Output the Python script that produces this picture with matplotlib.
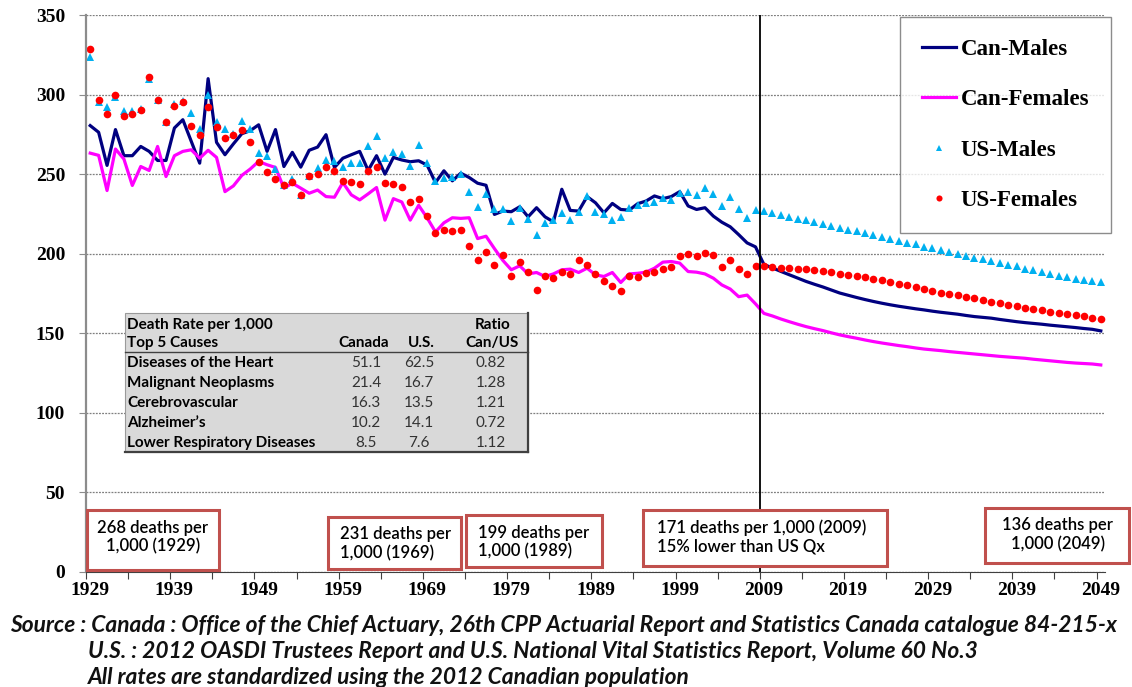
import matplotlib.pyplot as plt
from matplotlib.patches import Rectangle
from matplotlib.lines import Line2D
import numpy as np

years = np.arange(1929, 2050)

can_males = [280.5, 276.3, 255.5, 278, 261.6, 261.6, 267.4, 264.3, 258.6, 258.6,
             279, 284.2, 270.6, 256.9, 310, 270, 262.2, 269, 275.4, 277.3,
             281, 264.3, 278, 254.8, 263.7, 254.4, 265, 267, 274.8, 254.2,
             260, 262.2, 264.3, 252.3, 261.6,
             250, 260.5, 258.9, 257.8, 258.4, 255.7, 244.7, 252.1, 245.8, 250.6,
             247.9, 244.3, 243, 224.7, 226.8, 226.4, 229.5, 223.2, 228.9, 223.2,
             220, 240.5, 227.2, 226.8, 235.9, 232, 225.7, 231.6, 227.8, 227.4,
             231.4, 233.1, 236.3, 234.6, 235.9, 239, 230, 227.8, 228.9, 223.6,
             219.8, 216.9, 212, 206.8, 204.3,
             193.2, 191.1, 188.9, 186.8, 184.7, 182.6, 180.8, 179.1, 177.2, 175.3,
             173.9, 172.5, 171.2, 170.0, 168.9, 167.9, 167.0, 166.2, 165.4, 164.7,
             163.9, 163.2, 162.6, 162.0, 161.2, 160.5, 160.0, 159.5, 158.7, 158.0,
             157.3, 156.7, 156.2, 155.7, 155.1, 154.6, 154.1, 153.6, 153.0, 152.5,
             151.5]

can_females = [263.2, 261.8, 239.7, 265.8, 259.5, 242.9, 254.8, 252.3, 267.4, 248.5,
               261.6, 264.3, 265.3, 260, 265, 260.5, 239, 242.6, 249.2, 253.2,
               258, 255.9, 254.2, 241.2, 244.3, 241.2, 238, 240, 235.9, 235.5,
               244.7, 237, 233.8, 237.6, 241.6,
               221.1, 234.6, 232.5, 221.1, 230.4, 222.6, 213.7, 219.4, 222.6, 222.2,
               222.6, 209.5, 211, 203.2, 195.8, 189.9, 192.4, 187.3, 188.2, 185.7,
               187.3, 189.9, 190.3, 188.2, 190.9, 186.7, 185.7, 188.2, 181.9, 187.3,
               187.7, 188.4, 190.9, 194.7, 195.1, 194.1, 188.8, 188.4, 187.3, 184.6,
               180.4, 177.8, 173, 174, 168.5,
               162.5, 160.9, 159.0, 157.3, 155.7, 154.2, 152.9, 151.7, 150.3, 149.0,
               147.9, 146.9, 145.8, 144.8, 143.9, 143.1, 142.3, 141.6, 140.8, 140.1,
               139.6, 139.1, 138.5, 138.0, 137.5, 137.0, 136.5, 136.0, 135.5, 135.1,
               134.7, 134.3, 133.7, 133.2, 132.7, 132.2, 131.7, 131.3, 131.0, 130.7,
               130.1]

us_males = [323.7, 295.2, 292.2, 298.5, 289.5, 289.5, 291, 309.5, 296.8, 282.6,
            294.1, 295.8, 288.4, 278.6, 300, 282.6, 278.6, 275.2, 283.6, 278.4,
            263.2, 261.6, 253.4, 243.3, 247, 237, 248.9, 253.8, 259, 258,
            254.2, 257, 257, 267.4, 273.7,
            259.9, 264.1, 262.7, 255.3, 268.4, 257, 245.8, 247.5, 247.9, 250,
            238.8, 229.5, 237.3, 228.3, 228.3, 220.5, 228.5, 221.5, 212, 219.4,
            220.9, 225.7, 221.1, 226.4, 236.3, 226.4, 224.7, 221.1, 223, 228.9,
            230.4, 232.1, 232.7, 234.8, 233.8, 238, 239, 236.9, 241.6, 237.8,
            230, 235.7, 227.8, 222.2, 227.2,
            226.8, 225.4, 224.3, 223.1, 222, 220.9, 219.8, 218.8, 217.7, 216.3,
            215.2, 214.2, 213.2, 211.7, 210.6, 209.4, 208.3, 206.8, 205.8, 204.5,
            203.5, 202.2, 201.1, 199.8, 198.8, 197.5, 196.4, 195.4, 194.3, 193.1,
            192, 190.7, 189.5, 188.4, 187.2, 186.1, 185.1, 184, 183.3, 182.6,
            182]

us_females = [328.8, 296.8, 288, 300, 286.8, 288, 290.1, 311, 296.8, 282.6,
              292.6, 295.2, 280.5, 274.4, 292.2, 279.6, 272.7, 274.4, 277.9, 270,
              257.6, 251.3, 247, 242.9, 245, 236.6, 248.9, 250, 254.2, 252.1,
              245.8, 245, 244, 251.7, 254.4,
              244.3, 243.7, 242, 232.5, 234.6, 223.6, 213.1, 215.2, 214.1, 214.6,
              205.1, 195.8, 200.8, 192.6, 198.9, 185.7, 194.5, 188.4, 177.2, 185.7,
              185, 188.8, 187.1, 196.2, 193, 187.1, 183.1, 180, 176.8, 186.1,
              185.2, 187.8, 188.2, 190.3, 191.6, 198.3, 199.8, 198.7, 200.4, 199.4,
              191.6, 195.8, 190.5, 187.3, 192.4,
              192.1, 191.7, 191.3, 190.9, 190.6, 190.1, 189.6, 188.9, 188.3, 187.5,
              186.8, 185.8, 185.2, 184.1, 183.3, 182.2, 181.2, 180.3, 179.2, 177.8,
              176.6, 175.6, 174.7, 173.8, 172.9, 171.9, 170.8, 169.8, 168.9, 168.0,
              167.1, 166.2, 165.3, 164.5, 163.6, 162.8, 162.1, 161.4, 160.6, 159.7,
              158.8]

causes = ['Diseases of the Heart', 'Malignant Neoplasms', 'Cerebrovascular',
          'Alzheimer\u2019s', 'Lower Respiratory Diseases']
rate_canada = ['51.1', '21.4', '16.3', '10.2', '8.5']
rate_us = ['62.5', '16.7', '13.5', '14.1', '7.6']
ratio = ['0.82', '1.28', '1.21', '0.72', '1.12']

box_texts = ['268 deaths per\n1,000 (1929)',
             '231 deaths per\n1,000 (1969)',
             '199 deaths per\n1,000 (1989)',
             '171 deaths per 1,000 (2009)\n15% lower than US Qx',
             '136 deaths per\n1,000 (2049)']

source_lines = ['Source : Canada : Office of the Chief Actuary, 26th CPP Actuarial Report and Statistics Canada catalogue 84-215-x',
                'U.S. : 2012 OASDI Trustees Report and U.S. National Vital Statistics Report, Volume 60 No.3',
                'All rates are standardized using the 2012 Canadian population']

W, H = 1132, 687
serif = 'Liberation Serif'
sans = 'Lato'

def fx(p):
    return p / W

def fy(p):
    return 1 - p / H

fig = plt.figure(figsize=(W / 100, H / 100), dpi=100)
ax = fig.add_axes([fx(86), fy(572), (1105 - 86) / W, (572 - 15) / H])

ax.plot(years, can_males, color='#000080', lw=2.3, label='Can-Males')
ax.plot(years, can_females, color='#ff00ff', lw=2.3, label='Can-Females')
ax.plot(years, us_males, ls='none', marker='^', ms=5.5, mew=0, color='#00b0f0', label='US-Males')
ax.plot(years, us_females, ls='none', marker='o', ms=5.5, mew=0, color='#ff0000', label='US-Females')

ax.axvline(2008.5, color='black', lw=1.3)

ax.set_xlim(1928.5, 2049.5)
ax.set_ylim(0, 350)
ax.set_yticks(range(0, 351, 50))
ax.yaxis.grid(True, ls=(0, (1.5, 1)), color='#7f7f7f', lw=0.9)
ax.set_axisbelow(True)

ax.set_xticks(np.arange(1928.5, 2050, 5))
ax.set_xticklabels([])
ax.set_xticks(np.arange(1929, 2050, 10), minor=True)
ax.set_xticklabels([str(y) for y in range(1929, 2050, 10)], minor=True,
                   fontfamily=serif, fontweight='bold', fontsize=14)
ax.tick_params(axis='x', which='major', length=5, color='#404040')
ax.tick_params(axis='x', which='minor', length=0, pad=7)
ax.tick_params(axis='y', length=5, color='#8c8c8c', pad=10)
for lab in ax.get_yticklabels():
    lab.set_fontfamily(serif)
    lab.set_fontweight('bold')
    lab.set_fontsize(14)

for s in ['top', 'right']:
    ax.spines[s].set_visible(False)
ax.spines['left'].set_color('#8c8c8c')
ax.spines['left'].set_linewidth(1.6)
ax.spines['bottom'].set_color('#404040')

leg = ax.legend(loc='upper right', bbox_to_anchor=(fx(1111), fy(17)),
                bbox_transform=fig.transFigure, borderaxespad=0,
                prop={'family': serif, 'weight': 'bold', 'size': 16.5},
                frameon=True, fancybox=False, edgecolor='#707070',
                handlelength=1.5, handletextpad=0.2, labelspacing=1.28,
                borderpad=0.95, markerscale=0.8)
leg.get_frame().set_linewidth(1.0)

# summary table of causes
fig.add_artist(Rectangle((fx(125), fy(452)), (528 - 125) / W, (452 - 313) / H,
                         transform=fig.transFigure, facecolor='#d9d9d9',
                         edgecolor='#9a9a9a', lw=0.8))
fig.add_artist(Line2D([fx(125), fx(528)], [fy(452), fy(452)], transform=fig.transFigure, color='#404040', lw=1.6))
fig.add_artist(Line2D([fx(528), fx(528)], [fy(313), fy(452)], transform=fig.transFigure, color='#404040', lw=1.6))
fig.add_artist(Line2D([fx(125), fx(528)], [fy(352), fy(352)], transform=fig.transFigure, color='#404040', lw=1.0))

tfont = dict(family=sans, fontsize=11, va='center')
fig.text(fx(127), fy(325), 'Death Rate per 1,000', weight='bold', **tfont)
fig.text(fx(127), fy(343), 'Top 5 Causes', weight='bold', **tfont)
fig.text(fx(364), fy(343), 'Canada', weight='bold', ha='center', **tfont)
fig.text(fx(421), fy(343), 'U.S.', weight='bold', ha='center', **tfont)
fig.text(fx(493), fy(325), 'Ratio', weight='bold', ha='center', **tfont)
fig.text(fx(492), fy(343), 'Can/US', weight='bold', ha='center', **tfont)
for i in range(len(causes)):
    yy = fy(363 + 20 * i)
    fig.text(fx(127), yy, causes[i], weight='bold', **tfont)
    fig.text(fx(366), yy, rate_canada[i], ha='center', color='#333333', **tfont)
    fig.text(fx(419), yy, rate_us[i], ha='center', color='#333333', **tfont)
    fig.text(fx(491), yy, ratio[i], ha='center', color='#333333', **tfont)

# annotation boxes
boxes = [(87, 219, 510, 570, 153, 537, 'center'),
         (328, 461, 517, 569, 340, 543.5, 'left'),
         (466, 602, 515, 567, 478, 542, 'left'),
         (643, 887, 510, 566, 657, 537, 'left'),
         (985, 1129, 508, 563, 1058, 534.5, 'center')]
for (x0, x1, y0, y1, tx, ty, ha), txt in zip(boxes, box_texts):
    fig.add_artist(Rectangle((fx(x0), fy(y1)), (x1 - x0) / W, (y1 - y0) / H,
                             transform=fig.transFigure, facecolor='white',
                             edgecolor='#c0504d', lw=2.2))
    fig.text(fx(tx), fy(ty), txt, ha=ha, va='center', family=sans,
             weight='semibold', fontsize=12, linespacing=1.2, multialignment=ha)

# source note
src = dict(family=sans, style='italic', weight='bold', fontsize=16.4, va='center', color='#111111')
fig.text(fx(10), fy(626), source_lines[0], **src)
fig.text(fx(88), fy(652), source_lines[1], **src)
fig.text(fx(88), fy(677), source_lines[2], **src)

fig.savefig('out.png', dpi=100)
